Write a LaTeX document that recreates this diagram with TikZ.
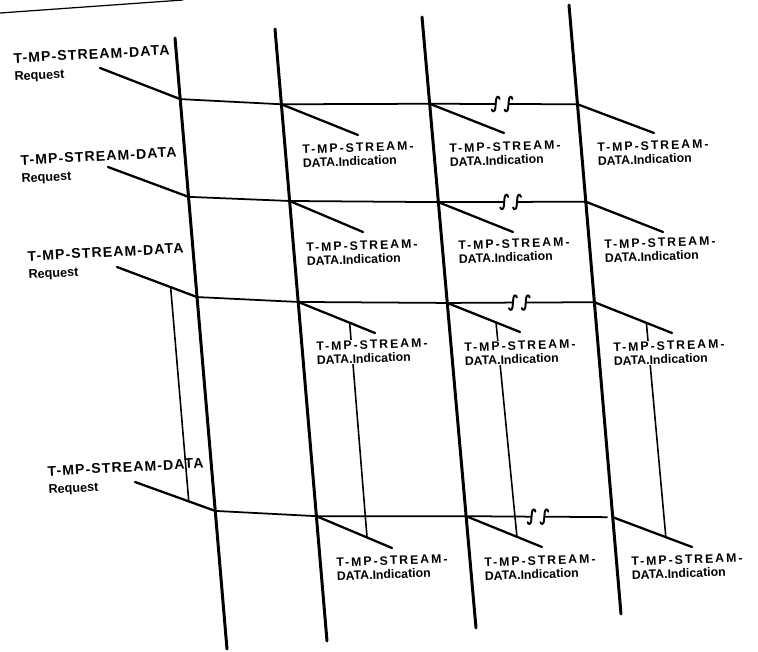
\documentclass[tikz,border=0pt]{standalone}
\usepackage{fontspec}
\setmainfont{Liberation Sans}
\usetikzlibrary{calc}
\newcommand{\spc}[2]{{\addfontfeatures{LetterSpace=#1}#2}}
\begin{document}
\begin{tikzpicture}[x=0.02cm,y=-0.02cm,
  life/.style={line width=1.7pt, line cap=round},
  hline/.style={line width=1pt},
  diag/.style={line width=1.3pt, line cap=round},
  link/.style={line width=0.9pt},
  req/.style={anchor=north west, inner sep=0pt, rotate=3, align=left,
    font=\bfseries\fontsize{8}{10}\selectfont},
  ind/.style={anchor=north west, inner sep=0.5pt, fill=white, rotate=2, align=left,
    font=\bfseries\fontsize{7}{7.8}\selectfont},
  brk/.pic={
    \draw[line width=1.1pt, line cap=round] (-2.5,-5) .. controls (-3,-8) and (-5.5,-8) .. (-6,-4.5)
       -- (-6.8,4.5) .. controls (-7.3,8) and (-9.8,8) .. (-10.3,5.5);
    \draw[line width=1.1pt, line cap=round] (10.3,-5) .. controls (9.8,-8) and (7.3,-8) .. (6.8,-4.5)
       -- (6,4.5) .. controls (5.5,8) and (3,8) .. (2.5,5.5);
  }]
\useasboundingbox (0,0) rectangle (758,652);
% scan edge
\draw[line width=0.7pt] (0,13) -- (183,0);
% life lines
\coordinate (t1) at (175,38); \coordinate (b1) at (227,649);
\coordinate (t2) at (275,29); \coordinate (b2) at (327,641);
\coordinate (t3) at (422,17); \coordinate (b3) at (476,628);
\coordinate (t4) at (569,5);  \coordinate (b4) at (621,614);
\draw[life] (t1) -- (b1);
\draw[life] (t2) -- (b2);
\draw[life] (t3) -- (b3);
\draw[life] (t4) -- (b4);
\path (t1) -- (b1) coordinate[pos=0.100] (r1c1) coordinate[pos=0.260] (r2c1)
                   coordinate[pos=0.424] (r3c1) coordinate[pos=0.774] (r4c1);
\path (t2) -- (b2) coordinate[pos=0.123] (r1c2) coordinate[pos=0.281] (r2c2)
                   coordinate[pos=0.446] (r3c2) coordinate[pos=0.796] (r4c2);
\path (t3) -- (b3) coordinate[pos=0.142] (r1c3) coordinate[pos=0.303] (r2c3)
                   coordinate[pos=0.468] (r3c3) coordinate[pos=0.817] (r4c3);
\path (t4) -- (b4) coordinate[pos=0.163] (r1c4) coordinate[pos=0.323] (r2c4)
                   coordinate[pos=0.488] (r3c4) coordinate[pos=0.841] (r4c4);
% break points
\foreach \r in {1,2,3,4}{
  \coordinate (s\r) at ($(r\r c3)!0.49!(r\r c4)$);
}
% horizontal lines
\foreach \r in {1,2,3}{
  \draw[hline] (r\r c1) -- (r\r c2) -- (r\r c3) -- ($(s\r)+(-6.4,0)$);
  \draw[hline] ($(s\r)+(6.4,0)$) -- (r\r c4);
  \pic at (s\r) {brk};
}
\draw[hline] (r4c1) -- (r4c2) -- (r4c3) -- ($(s4)+(-6.4,0)$);
\draw[hline] ($(s4)+(6.4,0)$) -- ($(r4c4)+(-5,0)$);
\pic at (s4) {brk};
% request diagonals
\coordinate (q1) at (100,68);
\coordinate (q2) at (108,167);
\coordinate (q3) at (117,267);
\coordinate (q4) at (135,482);
\foreach \r in {1,2,3,4}{ \draw[diag] (q\r) -- (r\r c1); }
% indication diagonals
\coordinate (e1c2) at (358,135); \coordinate (e1c3) at (504,133); \coordinate (e1c4) at (654,133);
\coordinate (e2c2) at (363,232); \coordinate (e2c3) at (513,232); \coordinate (e2c4) at (663,232);
\coordinate (e3c2) at (375,333); \coordinate (e3c3) at (520,332); \coordinate (e3c4) at (672,333);
\coordinate (e4c2) at (392,548); \coordinate (e4c3) at (542,547); \coordinate (e4c4) at (692,547);
\foreach \r in {1,2,3,4}{
  \foreach \c in {2,3,4}{ \draw[diag] (r\r c\c) -- (e\r c\c); }
}
% links between row 3 and row 4
\path (q3) -- (r3c1) coordinate[pos=0.67] (la1);
\path (q4) -- (r4c1) coordinate[pos=0.67] (lb1);
\foreach \c in {2,3,4}{
  \path (r3c\c) -- (e3c\c) coordinate[pos=0.67] (la\c);
  \path (r4c\c) -- (e4c\c) coordinate[pos=0.67] (lb\c);
}
\foreach \c in {1,2,3,4}{ \draw[link] (la\c) -- (lb\c); }
% request labels
\node[req] (rq1) at (13,53)  {\spc{8}{T-MP-STREAM-DATA}\\{\fontsize{7.2}{9}\selectfont Request}};
\node[req] (rq2) at (20,155) {\spc{8}{T-MP-STREAM-DATA}\\{\fontsize{7.2}{9}\selectfont Request}};
\node[req] (rq3) at (27,251) {\spc{8}{T-MP-STREAM-DATA}\\{\fontsize{7.2}{9}\selectfont Request}};
\node[req] (rq4) at (47,466) {\spc{8}{T-MP-STREAM-DATA}\\{\fontsize{7.2}{9}\selectfont Request}};
% indication labels
\foreach \n/\x/\y in {i1c2/301/144, i1c3/448/143, i1c4/596/142,
                      i2c2/305/242, i2c3/457/240, i2c4/603/239,
                      i3c2/315/341, i3c3/463/342, i3c4/612/342,
                      i4c2/335/557, i4c3/483/557, i4c4/630/556}{
  \node[ind] (\n) at (\x,\y) {\spc{16}{T-MP-STREAM-}\\DATA.Indication};
}
\end{tikzpicture}
\end{document}
